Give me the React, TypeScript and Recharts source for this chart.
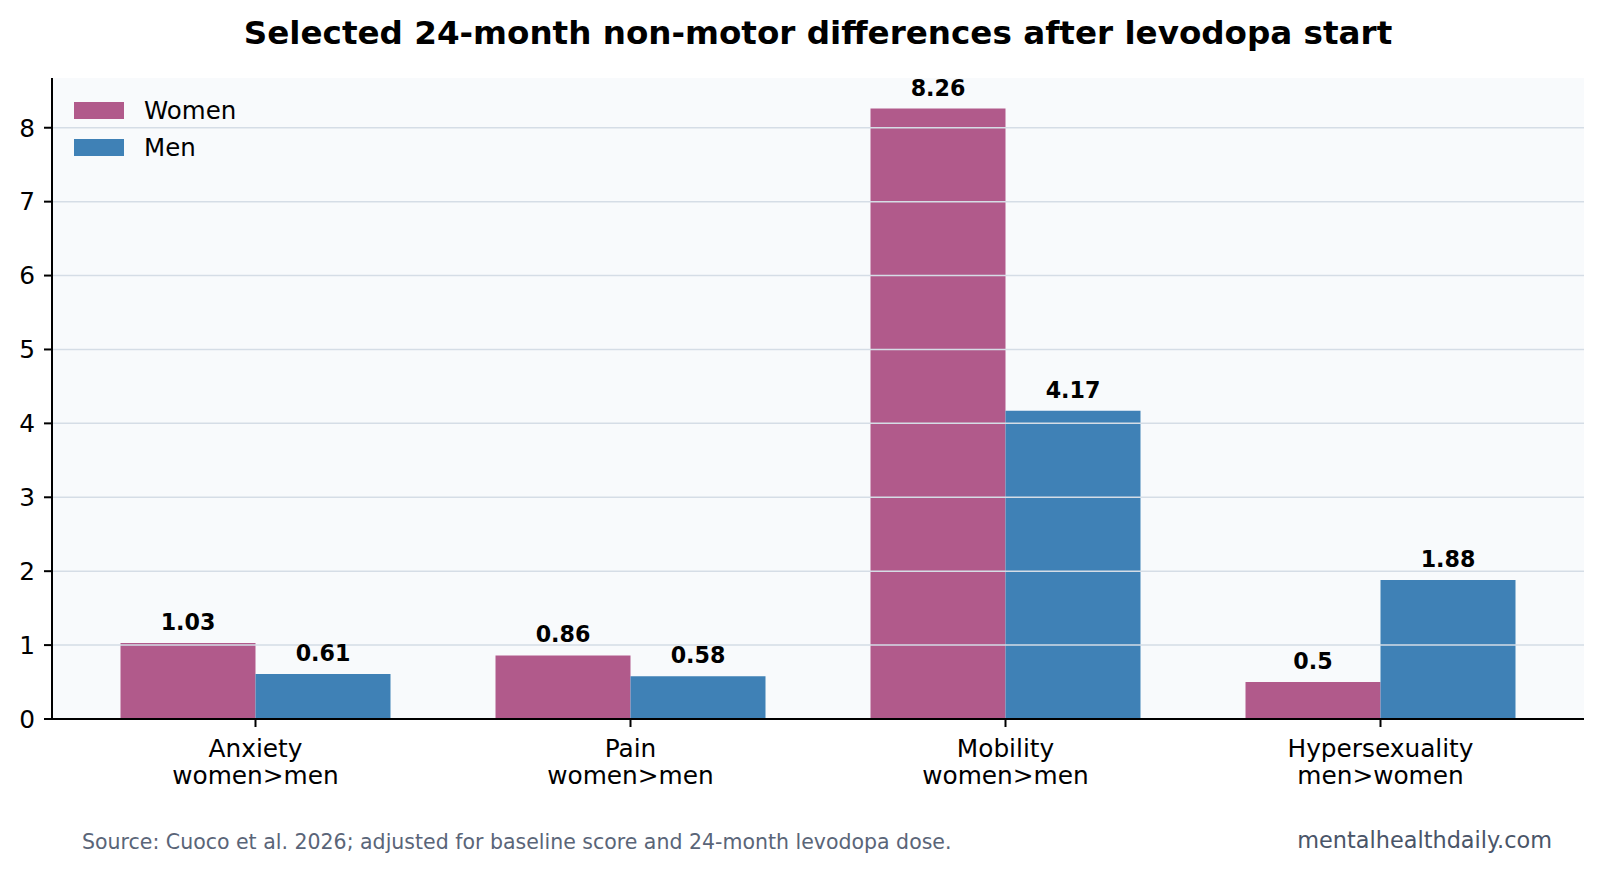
import React from "react";
import {
  BarChart,
  Bar,
  XAxis,
  YAxis,
  CartesianGrid,
  LabelList,
  ReferenceLine,
} from "recharts";

const categories = ["Anxiety", "Pain", "Mobility", "Hypersexuality"];
const directions = ["women>men", "women>men", "women>men", "men>women"];
const women = [1.03, 0.86, 8.26, 0.5];
const men = [0.61, 0.58, 4.17, 1.88];
const yTicks = [0, 1, 2, 3, 4, 5, 6, 7, 8];

const WOMEN_COLOR = "#b15a8b";
const MEN_COLOR = "#3f81b6";
const FONT = "'DejaVu Sans', sans-serif";

const series = [
  { key: "women", label: "Women", color: WOMEN_COLOR },
  { key: "men", label: "Men", color: MEN_COLOR },
];

const data = categories.map((name, i) => ({
  name,
  direction: directions[i],
  women: women[i],
  men: men[i],
}));

const yMax = Math.max(...women, ...men) * 1.05;

const CategoryTick = ({ x, y, payload, index }: any) => (
  <text x={x} y={y} textAnchor="middle" fontFamily={FONT} fontSize={24.8} fill="#000">
    <tspan x={x} dy={27.5}>{payload.value}</tspan>
    <tspan x={x} dy={27.5}>{data[index]?.direction}</tspan>
  </text>
);

// legend drawn in the upper-left corner of the plot
const LegendBox = () => (
  <div
    style={{
      position: "absolute",
      left: 74,
      top: 92,
      fontFamily: FONT,
      fontSize: 24.5,
      color: "#000",
      pointerEvents: "none",
    }}
  >
    {series.map((item) => (
      <div
        key={item.key}
        style={{ display: "flex", alignItems: "center", height: 37 }}
      >
        <span
          style={{
            display: "inline-block",
            width: 50,
            height: 17,
            background: item.color,
            marginRight: 20,
          }}
        />
        <span>{item.label}</span>
      </div>
    ))}
  </div>
);

const App = () => {
  return (
    <div
      style={{
        position: "absolute",
        left: 0,
        top: 0,
        width: 1601,
        height: 871,
        background: "#ffffff",
      }}
    >
      <BarChart
        width={1601}
        height={871}
        data={data}
        margin={{ top: 78, right: 17, left: 0, bottom: 0 }}
        barCategoryGap="14%"
        barGap={0}
      >
        <CartesianGrid fill="#f8fafc" horizontal={false} vertical={false} stroke="none" />
        <XAxis
          dataKey="name"
          height={152}
          padding={{ left: 16, right: 16 }}
          tick={<CategoryTick />}
          tickSize={8}
          tickMargin={2}
          axisLine={{ stroke: "#000", strokeWidth: 2 }}
          tickLine={{ stroke: "#000", strokeWidth: 2 }}
          interval={0}
        />
        <YAxis
          width={52}
          domain={[0, yMax]}
          ticks={yTicks}
          tickSize={8}
          tickMargin={9}
          axisLine={{ stroke: "#000", strokeWidth: 2 }}
          tickLine={{ stroke: "#000", strokeWidth: 2 }}
          tick={{ fontFamily: FONT, fontSize: 24.8, fill: "#000" }}
        />
        {series.map((s) => (
          <Bar
            key={s.key}
            dataKey={s.key}
            name={s.label}
            fill={s.color}
            isAnimationActive={false}
          >
            <LabelList
              dataKey={s.key}
              position="top"
              offset={13}
              fontFamily={FONT}
              fontSize={22.2}
              fontWeight="bold"
              fill="#000"
            />
          </Bar>
        ))}
        {/* horizontal grid drawn over the bars */}
        {yTicks.slice(1).map((t) => (
          <ReferenceLine key={t} y={t} stroke="#d5dde6" strokeWidth={1.5} />
        ))}
      </BarChart>
      <LegendBox />
      <svg
        width={1601}
        height={871}
        style={{ position: "absolute", left: 0, top: 0, pointerEvents: "none" }}
      >
        <text
          x={818}
          y={44}
          textAnchor="middle"
          fontFamily={FONT}
          fontWeight="bold"
          fontSize={32.6}
          fill="#000"
        >
          Selected 24-month non-motor differences after levodopa start
        </text>
        <text x={82} y={849} fontFamily={FONT} fontSize={20.5} fill="#5a6578">
          Source: Cuoco et al. 2026; adjusted for baseline score and 24-month levodopa dose.
        </text>
        <text
          x={1552}
          y={848}
          textAnchor="end"
          fontFamily={FONT}
          fontSize={22.4}
          fill="#4a5568"
        >
          mentalhealthdaily.com
        </text>
      </svg>
    </div>
  );
};

export default App;
